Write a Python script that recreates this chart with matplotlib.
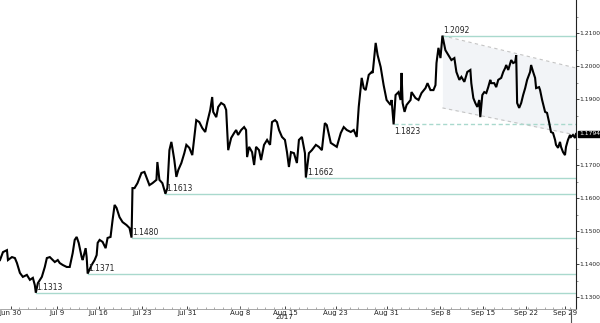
import matplotlib.pyplot as plt
from matplotlib.transforms import blended_transform_factory

plt.rcParams['font.family'] = ['Liberation Sans Narrow', 'DejaVu Sans']

# price path, x in trading days from Jun 30 (weekends removed)
days = [-1.29, -0.94, -0.47, -0.35, 0.12, 0.47, 0.71, 1.06, 1.41, 1.88, 2.24, 2.59, 2.82, 2.94,
        3.18, 3.65, 4.00, 4.24, 4.59, 4.94, 5.18, 5.53, 5.76, 6.12, 6.59, 6.94, 7.29, 7.53, 7.76,
        8.00, 8.35, 8.47, 8.82, 8.94, 9.06, 9.53, 9.88, 10.12, 10.24, 10.47, 10.82, 11.18, 11.41,
        11.76, 12.00, 12.24, 12.47, 12.82, 13.18, 13.65, 14.00, 14.24,
        14.35, 14.59, 14.94, 15.41, 15.76, 16.12, 16.35, 16.71, 17.18, 17.29, 17.53, 17.88, 18.24,
        18.47, 18.71, 18.94, 19.06, 19.29, 19.53, 19.76, 20.12, 20.47, 20.71, 21.06, 21.41, 21.65,
        21.88, 22.24, 22.59, 22.94, 23.18, 23.53, 23.76, 23.88, 24.24, 24.47, 24.82, 25.18, 25.41,
        25.65, 26.00, 26.35, 26.59, 26.82, 27.18, 27.53, 27.76, 27.88, 28.12, 28.47, 28.71, 28.94,
        29.29, 29.53, 29.88, 30.24, 30.59, 30.82, 31.18, 31.41, 31.65, 32.00, 32.35, 32.59, 32.82,
        33.06, 33.41,
        33.76, 34.00, 34.35, 34.71, 34.82, 35.18, 35.53, 36.00, 36.35, 36.71, 37.06, 37.29, 37.76,
        38.12, 38.47, 38.94, 39.29, 39.65, 40.12, 40.47, 40.82, 41.06, 41.41, 41.65, 41.88, 42.24,
        42.59, 42.71, 43.06, 43.29, 43.65, 44.00, 44.35, 44.82, 44.94, 45.18, 45.41, 45.76, 46.00,
        46.12, 46.24, 46.47, 46.71, 47.18, 47.29, 47.76, 48.12, 48.47, 48.94, 49.18, 49.53, 49.88,
        50.12, 50.24, 50.47, 50.71, 50.94,
        51.29, 51.65, 52.00, 52.35, 52.59, 52.94, 53.18, 53.53, 53.88, 54.24, 54.35, 54.59, 54.82,
        55.06, 55.29, 55.41, 55.65, 55.88, 56.12, 56.35, 56.59, 56.71, 57.06, 57.29, 57.53, 57.88,
        58.12, 58.35, 58.47, 58.71, 59.06, 59.29, 59.53, 59.65, 59.76, 60.00, 60.24, 60.47, 60.71,
        60.94, 61.29, 61.41, 61.65, 61.88, 62.00, 62.35, 62.47, 62.71, 63.06, 63.29, 63.53, 63.76,
        64.00, 64.24, 64.35, 64.59, 64.82, 64.94, 65.18, 65.41, 65.53, 65.76, 66.00, 66.12, 66.35,
        66.59, 66.71]
price = [1.1412, 1.1436, 1.1442, 1.1412, 1.1421, 1.1418, 1.1403, 1.1373, 1.1361, 1.1367, 1.1352,
         1.1358, 1.1336, 1.1313, 1.1342, 1.1361, 1.1391, 1.1418, 1.1421, 1.1412, 1.1406, 1.1412,
         1.1403, 1.1397, 1.1391, 1.1391, 1.1433, 1.1473, 1.1482, 1.1464, 1.1421, 1.1412, 1.1448,
         1.1421, 1.1371, 1.1397, 1.1412, 1.1427, 1.1464, 1.1473, 1.1467, 1.1448, 1.1479, 1.1482,
         1.1533, 1.1579, 1.1570, 1.1542, 1.1527, 1.1518, 1.1509, 1.1480,
         1.1630, 1.1630, 1.1645, 1.1676, 1.1679, 1.1655, 1.1639, 1.1645, 1.1655, 1.1709, 1.1655,
         1.1645, 1.1613, 1.1630, 1.1745, 1.1770, 1.1752, 1.1715, 1.1664, 1.1685, 1.1706, 1.1736,
         1.1761, 1.1752, 1.1730, 1.1785, 1.1836, 1.1830, 1.1812, 1.1800, 1.1830, 1.1867, 1.1906,
         1.1861, 1.1845, 1.1876, 1.1888, 1.1882, 1.1867, 1.1745, 1.1782, 1.1797, 1.1806, 1.1791,
         1.1806, 1.1815, 1.1806, 1.1724, 1.1755, 1.1739, 1.1700, 1.1755, 1.1745, 1.1715, 1.1761,
         1.1776, 1.1761, 1.1830, 1.1836, 1.1830, 1.1806, 1.1785, 1.1776, 1.1739, 1.1694, 1.1739,
         1.1736,
         1.1706, 1.1776, 1.1785, 1.1736, 1.1662, 1.1736, 1.1745, 1.1761, 1.1755, 1.1745, 1.1827,
         1.1821, 1.1767, 1.1761, 1.1755, 1.1797, 1.1815, 1.1806, 1.1800, 1.1806, 1.1785, 1.1876,
         1.1964, 1.1933, 1.1927, 1.1973, 1.1982, 1.1979, 1.2070, 1.2033, 1.1997, 1.1942, 1.1897,
         1.1882, 1.1897, 1.1823, 1.1912, 1.1921, 1.1897, 1.1979, 1.1888, 1.1861, 1.1882, 1.1897,
         1.1921, 1.1903, 1.1897, 1.1918, 1.1933, 1.1948, 1.1927, 1.1927, 1.1942, 1.2009, 1.2055,
         1.2024, 1.2092,
         1.2048, 1.2033, 1.2018, 1.2024, 1.1982, 1.1958, 1.1967, 1.1952, 1.1982, 1.1988, 1.1948,
         1.1903, 1.1888, 1.1876, 1.1897, 1.1845, 1.1912, 1.1921, 1.1918, 1.1936, 1.1958, 1.1948,
         1.1948, 1.1936, 1.1958, 1.1964, 1.1982, 1.1994, 1.2003, 1.1988, 1.2018, 1.2009, 1.2012,
         1.2033, 1.1888, 1.1873, 1.1888, 1.1912, 1.1933, 1.1958, 1.1982, 1.2003, 1.1982, 1.1964,
         1.1933, 1.1936, 1.1927, 1.1897, 1.1861, 1.1858, 1.1830, 1.1800, 1.1797, 1.1776, 1.1761,
         1.1752, 1.1770, 1.1755, 1.1739, 1.1730, 1.1755, 1.1776, 1.1791, 1.1785, 1.1791, 1.1782,
         1.1794]

# support / resistance levels and where they start
levels = [1.2092, 1.1823, 1.1662, 1.1613, 1.1480, 1.1371, 1.1313]
level_start = [50.94, 45.18, 34.82, 18.24, 14.24, 9.06, 2.94]
level_dashed = [False, True, False, False, False, False, False]

# falling channel
chan_x = [50.94, 66.71]
chan_top = [1.2092, 1.1994]
chan_bot = [1.1873, 1.1791]

tick_pos = [0, 5.41, 10.35, 15.53, 20.82, 27.06, 32.35, 38.35, 44.35, 50.71, 55.76, 60.82, 65.41]
tick_lab = ['Jun 30', 'Jul 9', 'Jul 16', 'Jul 23', 'Jul 31', 'Aug 8', 'Aug 15\n2017',
            'Aug 23', 'Aug 31', 'Sep 8', 'Sep 15', 'Sep 22', 'Sep 29']
yticks = [1.13, 1.14, 1.15, 1.16, 1.17, 1.19, 1.20, 1.21]
last = 1.1794

fig = plt.figure(figsize=(6, 3.23), dpi=100)
ax = fig.add_axes([0, 0.0433, 0.96, 0.9567])
xmin, xmax = -1.29, 66.71
ax.set_xlim(xmin, xmax)
ax.set_ylim(1.12636, 1.22)

ax.fill_between(chan_x, chan_bot, chan_top, color='#f2f4f7', lw=0, zorder=0)
ax.plot(chan_x, chan_top, color='#c4c4c4', lw=0.8, ls=(0, (3, 3)), zorder=1)
ax.plot(chan_x, chan_bot, color='#c4c4c4', lw=0.8, ls=(0, (3, 3)), zorder=1)

line_col = '#a9d9cd'
for lv, x0, dsh in zip(levels, level_start, level_dashed):
    ax.plot([x0, xmax], [lv, lv], color=line_col, lw=1.0,
            ls=(0, (3, 2)) if dsh else '-', zorder=1)
    ax.text(x0 + 0.1, lv + (-0.0008 if dsh else 0.0003), '%.4f' % lv,
            fontsize=5.5, color='#222222', va='top' if dsh else 'bottom', ha='left', zorder=3)

ax.plot(days, price, color='black', lw=1.5, zorder=2, solid_joinstyle='miter')

ax.yaxis.tick_right()
ax.set_yticks(yticks)
ax.set_yticklabels(['%.4f' % v for v in yticks])
ax.set_yticks([1.135, 1.145, 1.155, 1.165, 1.175, 1.185, 1.195, 1.205, 1.215], minor=True)
ax.tick_params(axis='y', which='major', labelsize=4.3, length=2, width=0.6, pad=0.5,
               colors='#222222')
ax.tick_params(axis='y', which='minor', length=1.5, width=0.5, color='#666666')
ax.set_xticks(tick_pos)
ax.set_xticklabels(tick_lab, linespacing=0.75)
ax.set_xticks(range(0, 67), minor=True)
ax.tick_params(axis='x', which='major', labelsize=5, length=2, width=0.6, pad=0.5,
               colors='#222222', direction='in')
ax.tick_params(axis='x', which='minor', length=1.5, width=0.5, color='#888888', direction='in')

for s in ['top', 'left']:
    ax.spines[s].set_visible(False)
ax.spines['right'].set_color('#222222')
ax.spines['right'].set_linewidth(0.8)
ax.spines['bottom'].set_color('#999999')
ax.spines['bottom'].set_linewidth(0.6)

# last price box
ax.text(1.005, last, '%.4f' % last, transform=blended_transform_factory(ax.transAxes, ax.transData),
        fontsize=4.3, color='white', va='center', ha='left',
        bbox=dict(boxstyle='square,pad=0.1', fc='black', ec='black'))

# end-of-data marker below the axis
trans = blended_transform_factory(ax.transData, ax.transAxes)
ax.plot([66.12, 66.12], [-0.045, 0], color='#555555', lw=0.8, transform=trans, clip_on=False)

fig.savefig('out.png', dpi=100)
